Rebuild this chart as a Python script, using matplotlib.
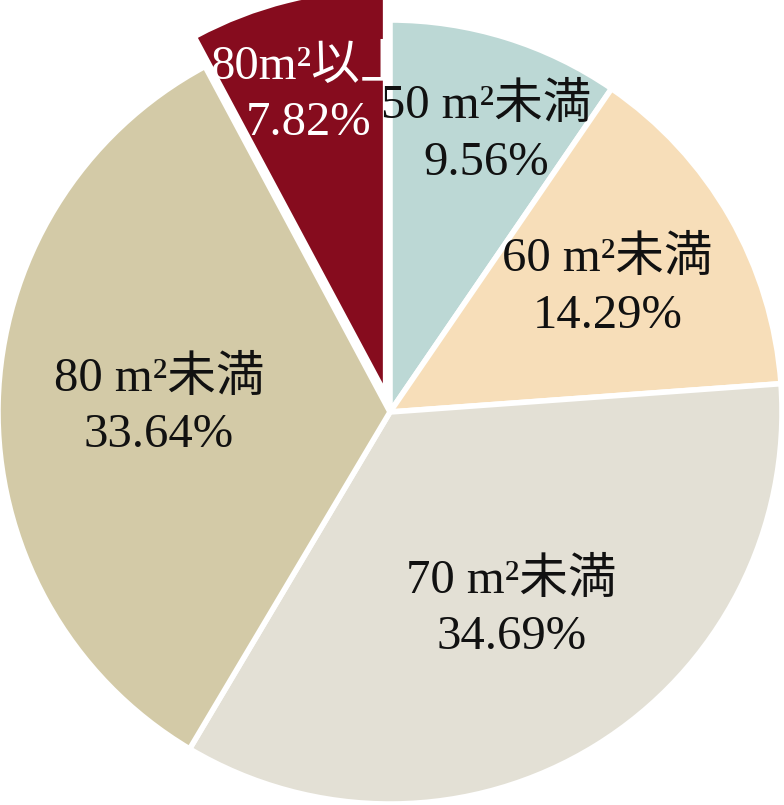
import numpy as np
import matplotlib
matplotlib.use("Agg")
import matplotlib.pyplot as plt

plt.rcParams['font.family'] = ['Liberation Serif', 'Noto Sans CJK JP', 'DejaVu Sans']

# 面積帯ごとの割合（12時の位置から時計回り）
categories = ["50 m²未満", "60 m²未満", "70 m²未満", "80 m²未満", "80m²以上"]
shares = [9.56, 14.29, 34.69, 33.64, 7.82]
colors = ["#bcd8d5", "#f7deb9", "#e3e0d5", "#d3caa7", "#860c1e"]
text_colors = ["#111111", "#111111", "#111111", "#111111", "#ffffff"]
explode = [0, 0, 0, 0, 0.075]
label_dist = [0.75, 0.64, 0.59, 0.59, 0.76]
label_turn = [-1.8, 0, 0, 0, 0.3]  # 度


def main():
    fig = plt.figure(figsize=(7.84, 8.05), dpi=100)
    ax = fig.add_axes([0, 0, 1, 1])
    wedges, _ = ax.pie(shares, colors=colors, startangle=90, counterclock=False,
                       explode=explode, radius=1.0,
                       wedgeprops=dict(edgecolor="white", linewidth=4))

    # 80m²以上は切り離して縁取りなし、ラベルは隣の扇形の下に隠れるようにする
    for w in wedges[:-1]:
        w.set_zorder(2)
    wedges[-1].set_zorder(1)
    wedges[-1].set_linewidth(0)

    for i, (w, name, val, tc, d, t) in enumerate(zip(wedges, categories, shares,
                                                     text_colors, label_dist, label_turn)):
        mid = np.deg2rad((w.theta1 + w.theta2) / 2 + t)
        cx, cy = w.center
        ax.text(cx + d * np.cos(mid), cy + d * np.sin(mid),
                "%s\n%.2f%%" % (name, val), ha="center", va="center",
                fontsize=35, color=tc, linespacing=1.36,
                zorder=1.5 if i == len(wedges) - 1 else 3)

    r = 392.0
    ax.set_xlim(-390 / r, (784 - 390) / r)
    ax.set_ylim(-393 / r, (805 - 393) / r)
    ax.set_aspect("auto")
    ax.axis("off")
    fig.savefig("out.png", dpi=100)


if __name__ == "__main__":
    main()
